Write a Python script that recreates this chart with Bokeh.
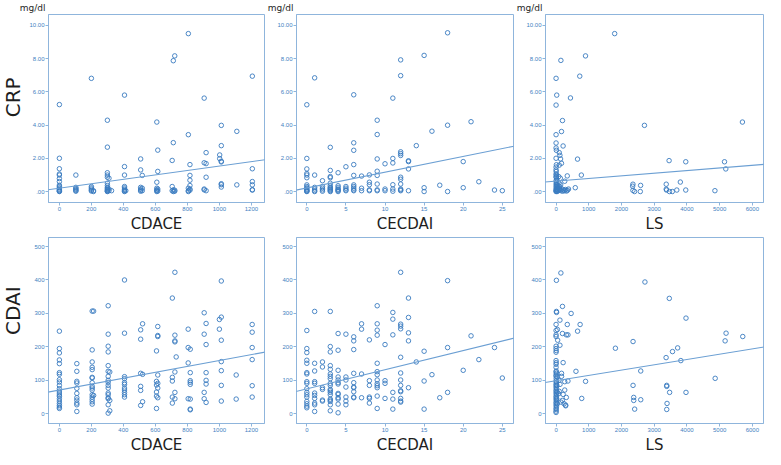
import math
from bokeh.plotting import figure
from bokeh.layouts import row, column
from bokeh.models import Range1d, FixedTicker, Slope
from bokeh.core.properties import value
from bokeh.embed import file_html
from bokeh.resources import INLINE

# ---------------- data ----------------
crp_ticks = [0, 2, 4, 6, 8, 10]
crp_tick_labels = [".00", "2.00", "4.00", "6.00", "8.00", "10.00"]
cdai_ticks = [0, 100, 200, 300, 400, 500]
cdai_tick_labels = ["0", "100", "200", "300", "400", "500"]
cdace_ticks = [0, 200, 400, 600, 800, 1000, 1200]
cecdai_ticks = [0, 5, 10, 15, 20, 25]
ls_ticks = [0, 1000, 2000, 3000, 4000, 5000, 6000]

row_labels = ["CRP", "CDAI"]
col_labels = ["CDACE", "CECDAI", "LS"]
unit_label = "mg/dl"

# regression lines: (intercept, slope)
fit_crp_cdace = (0.20, 0.001333)
fit_crp_cecdai = (0.215, 0.0948)
fit_crp_ls = (0.63, 0.0001576)
fit_cdai_cdace = (71.1, 0.0881)
fit_cdai_cecdai = (74.5, 5.73)
fit_cdai_ls = (99.1, 0.01583)

crp_vs_cdace = [
    (0, 5.23), (0, 2.0), (0, 1.37), (0, 1.05), (0, 0.99), (0, 0.78), (0, 0.6), (0, 0.38), (0, 0.3),
    (0, 0.22), (0, 0.15), (0, 0.1), (0, 0.05), (0, 0.02), (0, 0.0),
    (103, 0.99), (103, 0.25), (103, 0.18), (103, 0.12), (103, 0.06), (103, 0.02),
    (200, 6.81), (200, 0.3), (200, 0.22), (200, 0.15), (200, 0.08), (200, 0.03), (213, 0.05), (213, 0.0),
    (300, 4.29), (300, 2.67), (300, 1.13), (300, 0.99), (300, 0.86), (300, 0.5), (300, 0.36), (300, 0.25),
    (300, 0.18), (300, 0.12), (300, 0.06), (300, 0.02), (300, 0.0), (310, 0.8), (310, 0.15), (310, 0.05),
    (326, 0.05),
    (407, 5.8), (407, 1.5), (407, 0.99), (407, 0.3), (407, 0.22), (407, 0.14), (407, 0.08), (407, 0.03),
    (407, 0.0), (415, 0.05),
    (508, 1.96), (508, 1.3), (508, 0.25), (508, 0.15), (508, 0.08), (508, 0.02), (518, 0.97), (518, 0.2),
    (518, 0.05),
    (609, 4.18), (609, 0.56), (609, 0.2), (609, 0.1), (609, 0.05), (609, 0.0), (615, 2.49), (615, 1.21),
    (615, 0.15), (615, 0.03),
    (705, 1.87), (705, 0.3), (705, 0.05), (712, 7.87), (712, 2.94), (712, 0.1), (712, 0.0), (721, 8.16),
    (721, 0.08), (721, 0.02),
    (806, 9.5), (806, 3.42), (806, 0.2), (806, 0.05), (806, 0.0), (816, 1.62), (816, 0.97), (816, 0.68),
    (816, 0.36), (816, 0.15), (816, 0.08),
    (905, 5.62), (905, 1.73), (905, 0.15), (905, 0.1), (917, 2.34), (917, 1.68), (917, 0.86), (917, 0.05),
    (1002, 2.2), (1002, 1.98), (1012, 3.98), (1012, 2.76), (1012, 1.82), (1012, 1.78), (1012, 0.47),
    (1012, 0.41), (1012, 0.27),
    (1109, 3.62), (1109, 0.4),
    (1206, 6.94), (1206, 1.37), (1206, 0.6), (1206, 0.4), (1206, 0.11), (1206, 0.09),
]

crp_vs_cecdai = [
    (0, 5.22), (0, 1.99), (0, 1.36), (0, 1.08), (0, 0.99), (0, 0.83), (0, 0.4), (0, 0.3), (0, 0.22),
    (0, 0.15), (0, 0.1), (0, 0.05), (0, 0.02), (0, 0.0),
    (1, 6.84), (1, 0.99), (1, 0.25), (1, 0.15), (1, 0.05), (1, 0.0),
    (2, 0.65), (2, 0.3), (2, 0.2), (2, 0.1), (2, 0.02),
    (3, 2.66), (3, 1.27), (3, 0.9), (3, 0.83), (3, 0.5), (3, 0.35), (3, 0.25), (3, 0.2), (3, 0.15),
    (3, 0.1), (3, 0.05), (3, 0.0),
    (4, 1.13), (4, 0.35), (4, 0.25), (4, 0.15), (4, 0.1), (4, 0.05), (4, 0.0),
    (5, 1.49), (5, 0.3), (5, 0.2), (5, 0.1), (5, 0.05),
    (6, 5.82), (6, 2.93), (6, 2.48), (6, 1.62), (6, 0.97), (6, 0.4), (6, 0.3), (6, 0.2), (6, 0.1), (6, 0.05),
    (7, 0.93), (7, 0.2), (7, 0.05),
    (8, 1.0), (8, 0.56), (8, 0.41), (8, 0.1), (8, 0.05),
    (9, 4.29), (9, 3.43), (9, 1.96), (9, 1.22), (9, 0.97), (9, 0.45), (9, 0.1), (9, 0.05),
    (10, 1.67), (10, 0.15), (10, 0.05),
    (11, 5.62), (11, 1.99), (11, 1.72), (11, 0.41), (11, 0.15), (11, 0.02),
    (12, 7.92), (12, 6.97), (12, 2.39), (12, 2.28), (12, 2.17), (12, 0.86), (12, 0.74), (12, 0.45),
    (12, 0.15), (12, 0.1), (12, 0.05),
    (13, 1.85), (13, 1.8), (13, 1.36), (13, 0.05),
    (14, 2.76), (15, 8.19), (15, 0.23), (15, 0.0), (16, 3.63), (17, 0.38),
    (18, 9.55), (18, 3.99), (18, 0.0), (20, 1.8), (20, 0.23), (21, 4.2), (22, 0.59), (24, 0.09), (25, 0.05),
]

crp_vs_ls = [
    (0, 6.81), (20, 5.8), (0, 5.2), (0, 3.42), (0, 2.92), (0, 2.62), (10, 2.48), (0, 2.0), (10, 1.61),
    (0, 1.47), (0, 1.3), (5, 1.2), (0, 1.05), (10, 1.0), (0, 0.9), (5, 0.85), (20, 0.75), (0, 0.65),
    (10, 0.55), (0, 0.45), (15, 0.38), (0, 0.3), (30, 0.25), (5, 0.2), (40, 0.15), (0, 0.12), (20, 0.1),
    (50, 0.08), (0, 0.05), (10, 0.03), (30, 0.0), (0, 0.0), (60, 0.35), (25, 0.42), (45, 0.22), (70, 0.05),
    (147, 7.89), (117, 2.18), (98, 2.34), (137, 1.96), (98, 1.59), (166, 1.7), (166, 3.61), (196, 4.27),
    (215, 2.74), (440, 5.63), (724, 6.94), (900, 8.16), (656, 1.95), (342, 0.94), (773, 0.99), (264, 0.62),
    (587, 0.23),
    (100, 0.2), (120, 0.1), (150, 0.05), (180, 0.15), (200, 0.02), (230, 0.1), (260, 0.05), (290, 0.12),
    (320, 0.03), (350, 0.08), (380, 0.15), (110, 0.3), (140, 0.4), (90, 0.5), (80, 0.9), (130, 0.8),
    (1791, 9.5), (2701, 3.98), (2349, 0.44), (2340, 0.32), (2349, 0.07), (2398, 0.0), (2584, 0.37),
    (2574, 0.0), (3367, 0.44), (3367, 0.14), (3377, 0.09), (3455, 1.86), (3465, 0.0), (3553, 0.0),
    (3690, 0.09), (3798, 0.57), (3964, 1.79), (3964, 0.09), (4855, 0.05), (5148, 1.79), (5187, 1.36),
    (5696, 4.18),
]

cdai_vs_cdace = [
    (0, 247), (0, 195), (0, 182), (0, 161), (0, 150), (0, 123), (0, 118), (0, 102), (0, 95), (0, 85),
    (0, 75), (0, 68), (0, 62), (0, 56), (0, 52), (0, 45), (0, 38), (0, 31), (0, 25), (0, 20), (0, 16),
    (109, 150), (109, 127), (109, 97), (109, 92), (109, 76), (109, 61), (109, 48), (109, 41), (109, 32),
    (109, 27), (109, 7),
    (205, 307), (205, 191), (205, 155), (205, 139), (205, 132), (205, 109), (205, 107), (205, 93),
    (205, 82), (205, 77), (205, 71), (205, 57), (205, 50), (205, 43), (205, 36), (205, 29), (214, 307),
    (214, 55),
    (305, 323), (305, 238), (305, 202), (305, 185), (305, 144), (305, 127), (305, 112), (305, 100),
    (305, 94), (305, 85), (305, 77), (305, 62), (305, 57), (305, 48), (305, 45), (305, 27), (305, 2),
    (315, 125), (315, 9), (315, 40),
    (407, 400), (407, 241), (407, 111), (407, 105), (407, 93), (407, 88), (407, 77), (407, 71), (407, 64),
    (407, 57), (407, 50),
    (508, 251), (508, 223), (508, 121), (508, 82), (508, 70), (508, 25), (520, 269), (520, 118), (520, 36),
    (607, 188), (607, 97), (607, 86), (607, 65), (607, 53), (607, 16), (615, 261), (615, 234), (615, 231),
    (615, 116), (615, 91), (615, 77), (615, 48),
    (706, 346), (706, 109), (706, 98), (706, 50), (706, 32), (722, 423), (722, 235), (722, 218), (722, 215),
    (722, 125), (722, 64), (722, 45), (730, 170),
    (805, 253), (805, 198), (805, 152), (805, 45), (818, 193), (818, 123), (818, 99), (818, 94), (818, 88),
    (818, 44), (818, 14), (818, 12),
    (905, 302), (905, 238), (905, 64), (905, 45), (917, 270), (917, 207), (917, 123), (917, 100), (917, 89),
    (917, 34),
    (1000, 282), (1000, 253), (1012, 397), (1012, 289), (1012, 220), (1012, 156), (1012, 129), (1012, 85),
    (1012, 38),
    (1105, 116), (1105, 44),
    (1205, 267), (1205, 244), (1205, 198), (1205, 162), (1205, 84), (1205, 50),
]

cdai_vs_cecdai = [
    (0, 249), (0, 195), (0, 183), (0, 160), (0, 151), (0, 123), (0, 119), (0, 96), (0, 91), (0, 75),
    (0, 64), (0, 57), (0, 50), (0, 37), (0, 30), (0, 23), (0, 18),
    (1, 306), (1, 151), (1, 128), (1, 96), (1, 91), (1, 62), (1, 55), (1, 46), (1, 32), (1, 27), (1, 7),
    (2, 155), (2, 140), (2, 78), (2, 73), (2, 41), (2, 38),
    (3, 306), (3, 201), (3, 185), (3, 144), (3, 133), (3, 119), (3, 112), (3, 105), (3, 91), (3, 85),
    (3, 73), (3, 69), (3, 64), (3, 57), (3, 44), (3, 41), (3, 37), (3, 27), (3, 9),
    (4, 240), (4, 190), (4, 130), (4, 110), (4, 101), (4, 93), (4, 89), (4, 61), (4, 58), (4, 48), (4, 44),
    (4, 29), (4, 3),
    (5, 238), (5, 110), (5, 101), (5, 80), (5, 50), (5, 38), (5, 27),
    (6, 230), (6, 218), (6, 192), (6, 121), (6, 93), (6, 80), (6, 78), (6, 66), (6, 50), (6, 48),
    (7, 269), (7, 253), (7, 119), (7, 48),
    (8, 221), (8, 99), (8, 85), (8, 50), (8, 46), (8, 32),
    (9, 323), (9, 269), (9, 250), (9, 235), (9, 151), (9, 126), (9, 117), (9, 101), (9, 90), (9, 84),
    (9, 78), (9, 53), (9, 16),
    (10, 207), (10, 99), (10, 91), (10, 46),
    (11, 303), (11, 283), (11, 236), (11, 64), (11, 44), (11, 14),
    (12, 423), (12, 268), (12, 262), (12, 254), (12, 169), (12, 122), (12, 101), (12, 85), (12, 69),
    (12, 66), (12, 46), (12, 38), (12, 35),
    (13, 346), (13, 288), (13, 242), (13, 218), (13, 78),
    (14, 155), (15, 187), (15, 98), (15, 14), (16, 117), (17, 48), (18, 398), (18, 198), (18, 64),
    (20, 130), (21, 233), (22, 162), (24, 198), (25, 107),
]

cdai_vs_ls = [
    (10, 399), (10, 306), (15, 303), (0, 267), (40, 252), (0, 249), (0, 236), (0, 231), (49, 220),
    (0, 202), (0, 195), (5, 189), (0, 184), (0, 159), (5, 153), (0, 148), (0, 139), (5, 128), (0, 125),
    (10, 121), (0, 116), (0, 112), (5, 105), (0, 98), (10, 94), (0, 89), (5, 85), (0, 80), (10, 76),
    (0, 71), (5, 67), (0, 62), (10, 58), (0, 53), (5, 49), (0, 44), (10, 40), (0, 35), (5, 31), (0, 26),
    (10, 22), (0, 17), (5, 13), (0, 8), (0, 4), (30, 110), (25, 85), (35, 65), (20, 45), (40, 30),
    (147, 421), (196, 321), (118, 280), (460, 300), (343, 267), (735, 267), (657, 247), (314, 236),
    (363, 236), (196, 240), (118, 205), (216, 153), (608, 127), (902, 97), (784, 46), (167, 121),
    (167, 112), (265, 96), (363, 98), (265, 71), (314, 49), (190, 40), (150, 35), (245, 30), (294, 26),
    (294, 24), (98, 67), (216, 58), (120, 88), (80, 60), (90, 100),
    (1814, 196), (2353, 216), (2353, 85), (2373, 49), (2373, 40), (2402, 14), (2588, 128), (2588, 42),
    (2716, 394), (3461, 345), (3363, 168), (3559, 186), (3716, 197), (3814, 159), (3382, 85), (3382, 82),
    (3471, 64), (3392, 31), (3382, 13), (3971, 286), (3971, 64), (4863, 106), (5167, 218), (5196, 241),
    (5706, 231),
]

# ---------------- styling / layout ----------------
AXIS_COLOR = "#8fb5dc"
TICK_LABEL_COLOR = "#3f7fbf"
MARKER_COLOR = "#3a7bc0"
FIT_COLOR = "#6b9fd3"
TEXT_COLOR = "#1e1e1e"
LABEL_FONT = "DejaVu Sans"

CRP_RANGE = (-0.66, 10.65)
CDAI_RANGE = (-29, 527)
CDACE_RANGE = (-68, 1282)
CECDAI_RANGE = (-1.32, 26.43)
LS_RANGE = (-323, 6340)

LABEL_W = 24
BORDERS = [24, 31, 31]
FRAMES = [216, 217, 218]
TOTAL_W = LABEL_W + sum(BORDERS) + sum(FRAMES) + 3
STRIP_H = 14


def panel(points, xr, yr, xticks, yticks, ylabels, fit, xlabel, bl, fw, fh, bt):
    p = figure(output_backend="svg", toolbar_location=None,
               frame_width=fw, frame_height=fh,
               min_border_left=bl, min_border_right=1, min_border_top=bt, min_border_bottom=0,
               x_range=Range1d(*xr), y_range=Range1d(*yr),
               background_fill_color="white", border_fill_color="white")
    p.grid.visible = False
    p.outline_line_color = AXIS_COLOR
    p.outline_line_width = 1
    for ax in (p.xaxis[0], p.yaxis[0]):
        ax.axis_line_color = AXIS_COLOR
        ax.major_tick_line_color = AXIS_COLOR
        ax.minor_tick_line_color = None
        ax.major_tick_in = 0
        ax.major_tick_out = 3
        ax.major_label_standoff = 1
        ax.major_label_text_font_size = "6px"
        ax.major_label_text_font = "Liberation Sans"
        ax.major_label_text_color = TICK_LABEL_COLOR
        ax.axis_label_text_font = LABEL_FONT
        ax.axis_label_text_font_style = "normal"
        ax.axis_label_text_color = TEXT_COLOR
        ax.axis_label_standoff = 1
    p.xaxis.ticker = FixedTicker(ticks=xticks)
    p.yaxis.ticker = FixedTicker(ticks=yticks)
    p.yaxis.major_label_overrides = {t: s for t, s in zip(yticks, ylabels)}
    p.xaxis.axis_label = xlabel
    p.xaxis.axis_label_text_font_size = "15px"

    xs = [a for a, b in points]
    ys = [b for a, b in points]
    p.scatter(xs, ys, marker="circle", size=4.5, fill_color=None,
              line_color=MARKER_COLOR, line_width=1, line_alpha=0.9)
    p.add_layout(Slope(gradient=fit[1], y_intercept=fit[0],
                       line_color=FIT_COLOR, line_width=1.1))
    return p


def bare_fig(w, h, xr, yr):
    p = figure(output_backend="svg", toolbar_location=None,
               frame_width=w, frame_height=h,
               min_border_left=0, min_border_right=0, min_border_top=0, min_border_bottom=0,
               x_range=Range1d(*xr), y_range=Range1d(*yr),
               x_axis_type=None, y_axis_type=None,
               background_fill_color="white", border_fill_color="white")
    p.grid.visible = False
    p.outline_line_color = None
    return p


def row_label_fig(text, h, frac):
    p = bare_fig(LABEL_W, h, (0, 1), (0, 1))
    p.text(x=[0.5], y=[frac], text=[text], angle=math.pi / 2,
           text_align="center", text_baseline="middle",
           text_font=value(LABEL_FONT), text_font_size="20px", text_color=TEXT_COLOR)
    return p


# strip above the top row holding the "mg/dl" unit texts, in pixel coordinates
frame_lefts = []
x0 = LABEL_W
for b, f in zip(BORDERS, FRAMES):
    frame_lefts.append(x0 + b)
    x0 += b + f + 1
strip = bare_fig(TOTAL_W, STRIP_H, (0, TOTAL_W), (0, STRIP_H))
strip.text(x=[fl - 3 for fl in frame_lefts], y=[STRIP_H / 2] * 3, text=[unit_label] * 3,
           text_align="right", text_baseline="middle",
           text_font=value(LABEL_FONT), text_font_size="9px", text_color=TEXT_COLOR)

top = [
    row_label_fig(row_labels[0], 218, 0.62),
    panel(crp_vs_cdace, CDACE_RANGE, CRP_RANGE, cdace_ticks, crp_ticks, crp_tick_labels, fit_crp_cdace,
          col_labels[0], BORDERS[0], FRAMES[0], 188, 0),
    panel(crp_vs_cecdai, CECDAI_RANGE, CRP_RANGE, cecdai_ticks, crp_ticks, crp_tick_labels, fit_crp_cecdai,
          col_labels[1], BORDERS[1], FRAMES[1], 188, 0),
    panel(crp_vs_ls, LS_RANGE, CRP_RANGE, ls_ticks, crp_ticks, crp_tick_labels, fit_crp_ls,
          col_labels[2], BORDERS[2], FRAMES[2], 188, 0),
]
bottom = [
    row_label_fig(row_labels[1], 215, 0.66),
    panel(cdai_vs_cdace, CDACE_RANGE, CDAI_RANGE, cdace_ticks, cdai_ticks, cdai_tick_labels, fit_cdai_cdace,
          col_labels[0], BORDERS[0], FRAMES[0], 186, 2),
    panel(cdai_vs_cecdai, CECDAI_RANGE, CDAI_RANGE, cecdai_ticks, cdai_ticks, cdai_tick_labels, fit_cdai_cecdai,
          col_labels[1], BORDERS[1], FRAMES[1], 186, 2),
    panel(cdai_vs_ls, LS_RANGE, CDAI_RANGE, ls_ticks, cdai_ticks, cdai_tick_labels, fit_cdai_ls,
          col_labels[2], BORDERS[2], FRAMES[2], 186, 2),
]

layout = column(strip, row(*top), row(*bottom))
open("out.html", "w").write(file_html(layout, INLINE))
